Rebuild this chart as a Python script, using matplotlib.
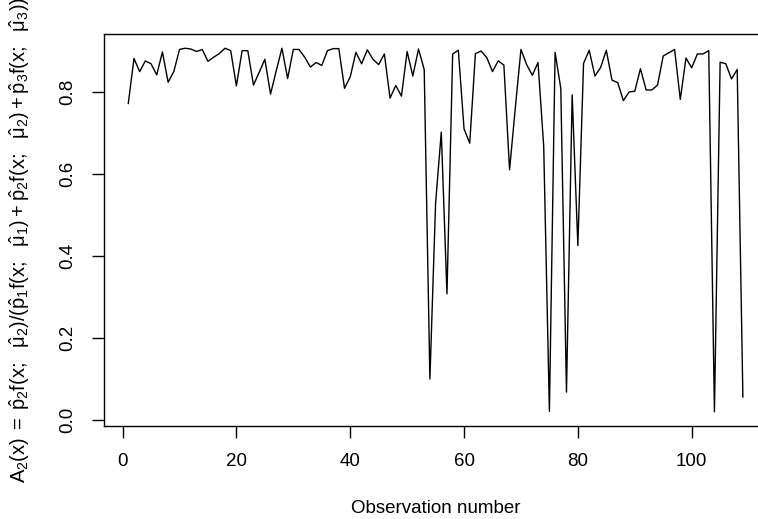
import numpy as np
import matplotlib
matplotlib.use("Agg")
import matplotlib.pyplot as plt

plt.rcParams['font.family'] = ['Liberation Sans', 'DejaVu Sans']
plt.rcParams['mathtext.fontset'] = 'custom'
plt.rcParams['mathtext.rm'] = 'Liberation Sans'
plt.rcParams['mathtext.it'] = 'Liberation Sans'
plt.rcParams['mathtext.bf'] = 'Liberation Sans:bold'

# posterior probability of component 2 for each observation
a2 = [0.772, 0.882, 0.850, 0.876, 0.869, 0.842, 0.898, 0.824, 0.850, 0.904,
      0.907, 0.905, 0.899, 0.904, 0.875, 0.885, 0.894, 0.907, 0.901, 0.815,
      0.901, 0.901, 0.817, 0.848, 0.880, 0.795, 0.852, 0.907, 0.833, 0.904,
      0.904, 0.885, 0.861, 0.872, 0.865, 0.901, 0.906, 0.906, 0.809, 0.837,
      0.897, 0.869, 0.903, 0.880, 0.867, 0.893, 0.785, 0.816, 0.790, 0.899,
      0.839, 0.905, 0.855, 0.099, 0.528, 0.702, 0.307, 0.893, 0.902, 0.710,
      0.675, 0.894, 0.900, 0.884, 0.850, 0.876, 0.866, 0.610, 0.760, 0.904,
      0.867, 0.841, 0.872, 0.667, 0.020, 0.897, 0.809, 0.067, 0.793, 0.425,
      0.870, 0.902, 0.839, 0.860, 0.902, 0.829, 0.823, 0.779, 0.800, 0.802,
      0.857, 0.805, 0.805, 0.817, 0.888, 0.896, 0.904, 0.782, 0.883, 0.859,
      0.893, 0.893, 0.901, 0.019, 0.873, 0.869, 0.832, 0.855, 0.055]
obs = np.arange(1, len(a2) + 1)

yticks = [0.0, 0.2, 0.4, 0.6, 0.8]
xticks = [0, 20, 40, 60, 80, 100]

fig = plt.figure(figsize=(7.58, 5.19), dpi=100)
# plot box runs past the right edge of the picture, as in the original
ax = fig.add_axes([0.1368, 0.1786, 0.8757, 0.7565])
ax.plot(obs, a2, color='black', lw=1.0)

# R style 4% padding
xs = obs.max() - obs.min()
ax.set_xlim(obs.min() - 0.04 * xs, obs.max() + 0.04 * xs)
ys = max(a2) - min(a2)
ax.set_ylim(min(a2) - 0.04 * ys, max(a2) + 0.04 * ys)

ax.set_xticks(xticks)
ax.set_yticks(yticks)
ax.set_yticklabels(['%.1f' % v for v in yticks], rotation=90, va='center')
ax.tick_params(direction='out', length=8.4, width=1.0, labelsize=13.5, pad=11)
for s in ax.spines.values():
    s.set_linewidth(1.0)
ax.spines['right'].set_visible(False)

fig.text(435.6 / 758, 1 - 513 / 519, 'Observation number', ha='center',
         va='baseline', fontsize=13.5)
ylab = (r'$A_2(x)\;=\;\hat{p}_2 f(x;\ \ \hat{\mu}_2)/(\hat{p}_1 f(x;\ \ \hat{\mu}_1)'
        r' + \hat{p}_2 f(x;\ \ \hat{\mu}_2) + \hat{p}_3 f(x;\ \ \hat{\mu}_3))$')
fig.text(20 / 758, 1 - 240 / 519, ylab, rotation=90, ha='center',
         va='center', fontsize=14.5)

fig.savefig('out.png', dpi=100)
